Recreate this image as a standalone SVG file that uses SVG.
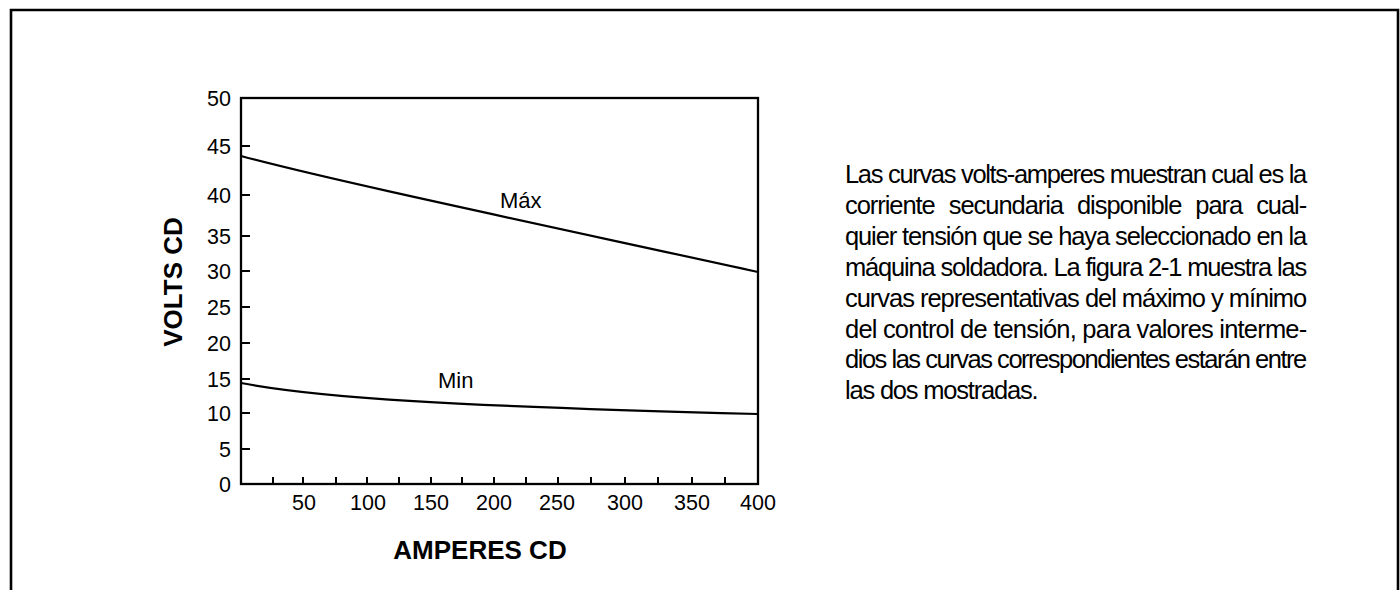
<svg xmlns="http://www.w3.org/2000/svg" width="1400" height="590" viewBox="0 0 1400 590">
<style>
.ax{fill:none;stroke:#000;stroke-width:2.3}
.tk{stroke:#000;stroke-width:2}
.cv{fill:none;stroke:#000;stroke-width:2.2}
.num{font-family:"Liberation Sans",Arial,sans-serif;font-size:21.5px;fill:#000}
.yl{text-anchor:end}
.xl{text-anchor:middle}
.ttl{font-family:"Liberation Sans",Arial,sans-serif;font-size:26px;font-weight:bold;fill:#000}
.lbl{font-family:"Liberation Sans",Arial,sans-serif;font-size:22px;fill:#000}
.par{font-family:"Liberation Sans",Arial,sans-serif;font-size:25.5px;fill:#000;letter-spacing:-1.2px}
</style>
<rect width="1400" height="590" fill="#fff"/>
<path d="M11,600 V10 H1398 V600" fill="none" stroke="#000" stroke-width="2.6"/>
<g id="chart">
<rect class="ax" x="241" y="98" width="517" height="386"/>
<g id="yticks">
<path class="tk" d="M241,146H250M241,195H250M241,236H250M241,271H250M241,307H250M241,343H250M241,379H250M241,413H250M241,449H250"/>
<text class="num yl" x="231" y="105.5">50</text>
<text class="num yl" x="231" y="153.5">45</text>
<text class="num yl" x="231" y="202.5">40</text>
<text class="num yl" x="231" y="243.5">35</text>
<text class="num yl" x="231" y="278.5">30</text>
<text class="num yl" x="231" y="314.5">25</text>
<text class="num yl" x="231" y="350.5">20</text>
<text class="num yl" x="231" y="386.5">15</text>
<text class="num yl" x="231" y="420.5">10</text>
<text class="num yl" x="231" y="456.5">5</text>
<text class="num yl" x="231" y="491.5">0</text>
</g>
<g id="xticks">
<path class="tk" d="M273,484V477M303,484V477M336,484V477M367,484V477M399,484V477M431,484V477M462,484V477M494,484V477M526,484V477M558,484V477M591,484V477M625,484V477M658,484V477M692,484V477M725,484V477"/>
<text class="num xl" x="304" y="510">50</text>
<text class="num xl" x="368" y="510">100</text>
<text class="num xl" x="431" y="510">150</text>
<text class="num xl" x="494" y="510">200</text>
<text class="num xl" x="557" y="510">250</text>
<text class="num xl" x="625" y="510">300</text>
<text class="num xl" x="692" y="510">350</text>
<text class="num xl" x="758" y="510">400</text>
</g>
<text class="ttl" x="480" y="559" text-anchor="middle">AMPERES CD</text>
<text class="ttl" transform="translate(182,282) rotate(-90)" text-anchor="middle" font-size="27">VOLTS CD</text>
</g>
<g id="curves">
<path id="max" class="cv" d="M241,156 C330,180 520,220 758,272"/>
<path id="min" class="cv" d="M241,383 C320,398 450,406 758,414"/>
<text class="lbl" x="500" y="208">Máx</text>
<text class="lbl" x="438" y="388" font-size="23">Min</text>
</g>
<g id="paragraph">
<text class="par" x="845" y="183" textLength="461" lengthAdjust="spacing">Las curvas volts-amperes muestran cual es la</text>
<text class="par" x="845" y="214" textLength="461" lengthAdjust="spacing" word-spacing="8">corriente secundaria disponible para cual-</text>
<text class="par" x="845" y="245" textLength="461" lengthAdjust="spacing">quier tensión que se haya seleccionado en la</text>
<text class="par" x="845" y="276" textLength="461" lengthAdjust="spacing">máquina soldadora. La figura 2-1 muestra las</text>
<text class="par" x="845" y="307" textLength="461" lengthAdjust="spacing">curvas representativas del máximo y mínimo</text>
<text class="par" x="845" y="338" textLength="461" lengthAdjust="spacing">del control de tensión, para valores interme-</text>
<text class="par" x="845" y="368" textLength="461" lengthAdjust="spacing">dios las curvas correspondientes estarán entre</text>
<text class="par" x="845" y="399">las dos mostradas.</text>
</g>
</svg>
